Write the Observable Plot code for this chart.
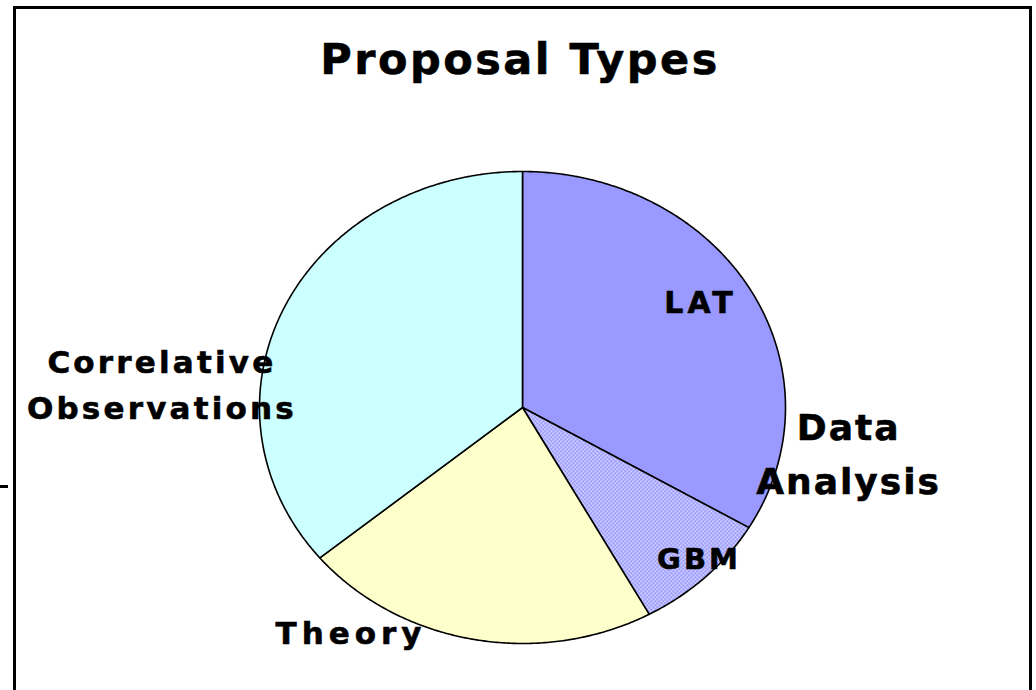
<!DOCTYPE html>
<html><head><meta charset="utf-8">
<script src="https://cdn.jsdelivr.net/npm/d3@7"></script>
<script src="https://cdn.jsdelivr.net/npm/@observablehq/plot@0.6"></script>
<style>
body{margin:0;background:#fff;}
#wrap{position:relative;width:1036px;height:690px;overflow:hidden;background:#fff;}
#border{position:absolute;left:13px;top:6px;width:1019px;height:720px;border:3px solid #000;box-sizing:border-box;pointer-events:none;}
#tick{position:absolute;left:0;top:485px;width:8px;height:3px;background:#000;}
#wrap svg{position:absolute;left:0;top:0;}
</style></head><body>
<div id="wrap"><div id="tick"></div></div>
<script>
// ---- data ----
const title = "Proposal Types";
const categories = ["LAT", "GBM", "Theory", "Correlative Observations"];
const values = [33.5, 8.5, 22, 36];
const sliceLabels = ["LAT", "GBM", "Theory", "Correlative\nObservations"];
const groupLabel = "Data\nAnalysis";
const fills = ["#9999ff", "url(#gbm-dots)", "#ffffcc", "#ccffff"];

// ---- label layout (data units, pie radius = 1) ----
const labelLayout = [
  {text: sliceLabels[0], x: 0.677, y: 0.443, size: 30, spacing: 4, lh: 1},
  {text: sliceLabels[1], x: 0.671, y: -0.644, size: 29, spacing: 3, lh: 1},
  {text: sliceLabels[2], x: -0.652, y: -0.958, size: 31, spacing: 5, lh: 1},
  {text: sliceLabels[3], x: -1.371, y: 0.112, size: 31, spacing: 3.2, lh: 1.5},
  {text: groupLabel, x: 1.240, y: -0.178, size: 36, spacing: 2, lh: 1.5}
];
const titleSize = 43, titleSpacing = 2.5;

// ---- build wedges ----
const total = d3.sum(values);
let acc = 0;
const wedges = categories.map((name, i) => {
  const a0 = acc / total * 2 * Math.PI;
  acc += values[i];
  const a1 = acc / total * 2 * Math.PI;
  const n = Math.max(2, Math.ceil((a1 - a0) / (Math.PI / 360)));
  const pts = [{x: 0, y: 0}];
  for (let k = 0; k <= n; k++) {
    const a = a0 + (a1 - a0) * k / n;
    pts.push({x: Math.sin(a), y: Math.cos(a)});
  }
  pts.push({x: 0, y: 0});
  return {name, pts, fill: fills[i]};
});

const cx = 522, cy = 407, rx = 263, ry = 236, W = 1036, H = 690;

const chart = Plot.plot({
  width: W, height: H,
  margin: 0,
  x: {domain: [-cx / rx, (W - cx) / rx], axis: null},
  y: {domain: [-(H - cy) / ry, cy / ry], axis: null},
  style: {fontFamily: "'DejaVu Sans', sans-serif", background: "transparent"},
  marks: [
    ...wedges.map(w => Plot.line(w.pts, {x: "x", y: "y", fill: w.fill, stroke: "#000", strokeWidth: 1.6, strokeLinejoin: "round"})),
    ...labelLayout.map(l => Plot.text([l], {x: "x", y: "y", text: "text", fontSize: l.size, fontWeight: "bold", fill: "#000", stroke: "#000", strokeWidth: 0.6, lineHeight: l.lh, textAnchor: "middle", lineAnchor: "middle"})),
    Plot.text([title], {frameAnchor: "top", dx: 1.5, dy: 60, lineAnchor: "middle", fontSize: titleSize, fontWeight: "bold", fill: "#000", stroke: "#000", strokeWidth: 0.6})
  ]
});

const textGroups = chart.querySelectorAll("g[aria-label=text]");
const spacings = [...labelLayout.map(l => l.spacing), titleSpacing];
textGroups.forEach((g, i) => { if (spacings[i] != null) g.style.letterSpacing = spacings[i] + "px"; });

const ns = "http://www.w3.org/2000/svg";
const defs = document.createElementNS(ns, "defs");
defs.innerHTML = `<pattern id="gbm-dots" width="4" height="4" patternUnits="userSpaceOnUse">
  <rect width="4" height="4" fill="#9999ff"/>
  <rect x="0" y="0" width="1.5" height="1.5" fill="#ffffff" opacity="0.9"/>
  <rect x="2" y="2" width="1.5" height="1.5" fill="#ffffff" opacity="0.9"/>
</pattern>`;
chart.prepend(defs);
const wrap = document.getElementById("wrap");
wrap.appendChild(chart);
const border = document.createElement("div");
border.id = "border";
wrap.appendChild(border);
</script>
</body></html>
